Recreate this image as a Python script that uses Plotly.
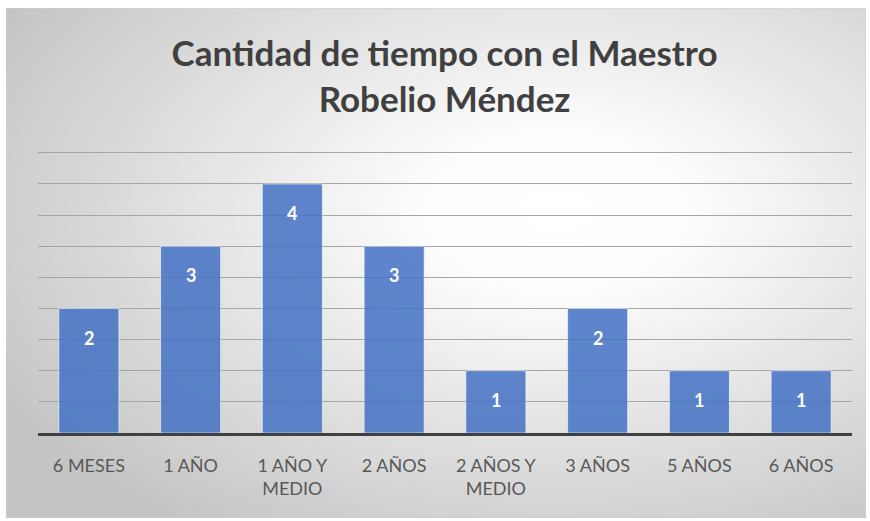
import base64
import plotly.graph_objects as go

# data
categories = ["6 MESES", "1 AÑO", "1 AÑO Y<br>MEDIO", "2 AÑOS", "2 AÑOS Y<br>MEDIO",
              "3 AÑOS", "5 AÑOS", "6 AÑOS"]
values = [2, 3, 4, 3, 1, 2, 1, 1]

title_text = "Cantidad de tiempo con el Maestro<br>Robelio Méndez"

W, H = 870, 521

# radial gradient background, like the Excel chart area fill
svg = """<svg xmlns='http://www.w3.org/2000/svg' width='860' height='510' preserveAspectRatio='none'>
<defs><radialGradient id='g' cx='64%' cy='40%' r='75%'>
<stop offset='0%' stop-color='#ffffff'/>
<stop offset='20%' stop-color='#fdfdfd'/>
<stop offset='100%' stop-color='#c4c4c4'/>
</radialGradient></defs>
<rect width='860' height='510' fill='url(#g)' stroke='#d0d0d0' stroke-width='1'/>
</svg>"""
bg_src = "data:image/svg+xml;base64," + base64.b64encode(svg.encode()).decode()

fig = go.Figure()
fig.add_trace(go.Bar(
    x=categories, y=values,
    marker=dict(color="#4472C4", opacity=0.85,
                line=dict(color="rgba(255,255,255,0.6)", width=1)),
    width=0.59, hoverinfo="skip",
))

# data labels near the top inside each bar
for c, v in zip(categories, values):
    fig.add_annotation(x=c, y=v, text=f"<b>{v}</b>", showarrow=False,
                       yshift=-29, font=dict(family="Lato", size=18, color="white"))

fig.update_layout(
    width=W, height=H,
    margin=dict(l=38, r=18, t=151, b=88),
    paper_bgcolor="white",
    plot_bgcolor="rgba(0,0,0,0)",
    showlegend=False,
    title=dict(text="<b>" + title_text + "</b>", x=0.511, xanchor="center",
               y=1 - 66 / H, yanchor="top",
               font=dict(family="Lato", size=35, color="#404040")),
    images=[dict(source=bg_src, xref="paper", yref="paper",
                 x=-32 / 814, y=1 + 143 / 282,
                 sizex=860 / 814, sizey=510 / 282,
                 xanchor="left", yanchor="top", sizing="stretch", layer="below")],
    xaxis=dict(showline=True, linecolor="#404040", linewidth=3,
               showgrid=False, ticks="", ticklabelstandoff=14,
               tickfont=dict(family="Lato", size=18, color="#595959")),
    yaxis=dict(range=[0, 4.53], dtick=0.5, showticklabels=False,
               showgrid=True, gridcolor="#a6a6a6", gridwidth=1,
               zeroline=False, fixedrange=True),
)

# the page body has a default 8px margin; drop it so the figure fills the window
fig.write_html("out.html", config={"displayModeBar": False},
               post_script="document.body.style.margin='0';")
